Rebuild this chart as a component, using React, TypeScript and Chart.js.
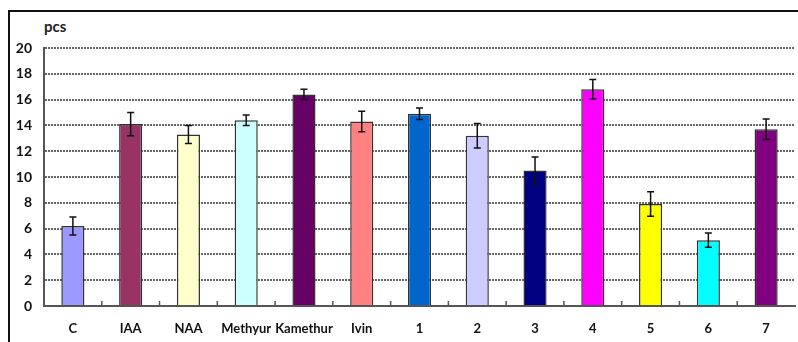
import React, { useEffect, useRef } from "react";
import { Chart, registerables } from "chart.js";

Chart.register(...registerables);

const categories = ["C", "IAA", "NAA", "Methyur", "Kamethur", "Ivin", "1", "2", "3", "4", "5", "6", "7"];
const values = [6.2, 14.1, 13.3, 14.4, 16.4, 14.3, 14.9, 13.2, 10.5, 16.8, 7.9, 5.1, 13.7];
const errors = [0.7, 0.9, 0.7, 0.4, 0.4, 0.8, 0.45, 0.95, 1.05, 0.75, 0.95, 0.55, 0.8];
const colors = [
  "#9999FF", "#993366", "#FFFFCC", "#CCFFFF", "#660066", "#FF8080",
  "#0066CC", "#CCCCFF", "#000080", "#FF00FF", "#FFFF00", "#00FFFF", "#800080",
];
const yMin = 0;
const yMax = 20;
const yStep = 2;
const unitLabel = "pcs";

const FONT = "Lato, 'Open Sans', sans-serif";

const errorBarPlugin = {
  id: "errorBars",
  afterDatasetsDraw(chart: any) {
    const ctx = chart.ctx;
    const meta = chart.getDatasetMeta(0);
    const y = chart.scales.y;
    ctx.save();
    ctx.strokeStyle = "#111";
    ctx.lineWidth = 1.5;
    meta.data.forEach((bar: any, i: number) => {
      const top = y.getPixelForValue(values[i] + errors[i]);
      const bot = y.getPixelForValue(values[i] - errors[i]);
      const x = bar.x;
      const cap = 3.5;
      ctx.beginPath();
      ctx.moveTo(x, top);
      ctx.lineTo(x, bot);
      ctx.moveTo(x - cap, top);
      ctx.lineTo(x + cap, top);
      ctx.moveTo(x - cap, bot);
      ctx.lineTo(x + cap, bot);
      ctx.stroke();
    });
    ctx.restore();
  },
};

const catTickPlugin = {
  id: "catTicks",
  afterDraw(chart: any) {
    const ctx = chart.ctx;
    const x = chart.scales.x;
    const bottom = chart.chartArea.bottom;
    ctx.save();
    ctx.strokeStyle = "#555";
    ctx.lineWidth = 1.5;
    for (let i = 0; i < categories.length - 1; i++) {
      const px = (x.getPixelForValue(i) + x.getPixelForValue(i + 1)) / 2;
      ctx.beginPath();
      ctx.moveTo(px, bottom);
      ctx.lineTo(px, bottom - 5);
      ctx.stroke();
    }
    ctx.restore();
  },
};

export default function App() {
  const ref = useRef<HTMLCanvasElement>(null);

  useEffect(() => {
    if (!ref.current) return;
    const chart = new Chart(ref.current, {
      type: "bar",
      data: {
        labels: categories,
        datasets: [
          {
            data: values,
            backgroundColor: colors,
            borderColor: "#333",
            borderWidth: 1.5,
            barPercentage: 0.4,
            categoryPercentage: 1,
          },
        ],
      },
      options: {
        responsive: false,
        animation: false,
        layout: { padding: { left: 0, right: 3, top: 48, bottom: 0 } },
        plugins: {
          legend: { display: false },
          tooltip: { enabled: false },
        },
        scales: {
          x: {
            grid: { display: false, drawTicks: false },
            border: { display: true, color: "#555", width: 2 },
            ticks: {
              color: "#111",
              padding: 15,
              maxRotation: 0,
              autoSkip: false,
              font: { family: FONT, size: 13, weight: "bold" },
            },
            afterFit: (s: any) => {
              s.height = 36;
            },
          },
          y: {
            min: yMin,
            max: yMax,
            grid: {
              color: "#666",
              lineWidth: 2,
              drawTicks: false,
            },
            border: { display: true, color: "#555", width: 2, dash: [2, 1] },
            ticks: {
              stepSize: yStep,
              color: "#111",
              padding: 12,
              font: { family: FONT, size: 14, weight: "bold" },
            },
            afterFit: (s: any) => {
              s.width = 44;
            },
          },
        },
      },
      plugins: [errorBarPlugin, catTickPlugin],
    });
    return () => chart.destroy();
  }, []);

  return (
    <div style={{ position: "fixed", left: 0, top: 0, width: 798, height: 342, background: "#fff", overflow: "hidden" }}>
      <div
        style={{
          position: "absolute",
          left: 8,
          top: 10,
          width: 800,
          height: 340,
          border: "2px solid #111",
        }}
      />
      <span
        style={{
          position: "absolute",
          left: 44,
          top: 17,
          fontFamily: FONT,
          fontWeight: "bold",
          fontSize: 15,
          color: "#222",
        }}
      >
        {unitLabel}
      </span>
      <canvas ref={ref} width={798} height={342} style={{ position: "absolute", left: 0, top: 0 }} />
    </div>
  );
}
